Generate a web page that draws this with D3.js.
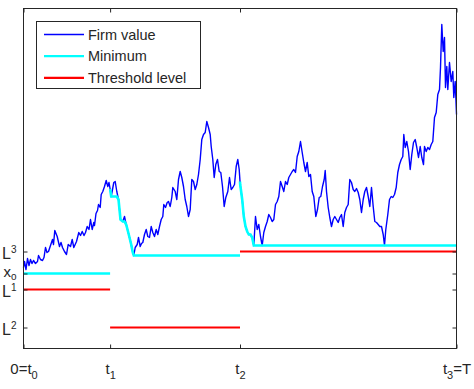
<!DOCTYPE html>
<html>
<head>
<meta charset="utf-8">
<script src="https://cdn.jsdelivr.net/npm/d3@7"></script>
<style>
  body { margin: 0; background: #fff; }
  text { font-family: "Liberation Sans", Arial, sans-serif; fill: #262626; }
</style>
</head>
<body>
<div class="chart"></div>
<script>
// time axis runs 0..T, thresholds change at t1 and t2
var T = 433, t1 = 86.6, t2 = 216.5;
var x0 = 75, L1 = 59, L2 = 21, L3 = 97;

var breakTimes = [0, t1, t2, T];
var thresholdLevels = [L1, L2, L3];

var times = [
  0, 1, 2.5, 4, 5.5, 7, 8.5, 10, 12, 14, 15, 17, 19, 20.5, 22, 23.5, 25, 27, 29, 30,
  31.3, 33.7, 36, 37.5, 39, 41, 43, 44.7, 47, 48.7, 50.3, 53, 55.3, 57, 58.7, 60.5, 62, 63.7, 65.5, 67,
  68.7, 70.3, 71, 72.5, 74, 75, 76.7, 77.7, 79.3, 81, 82.7, 84.3, 85.5, 86.7, 87.7, 89, 90.3, 91.7, 93.3, 95,
  97, 99.3, 101, 102.7, 104.5, 106, 107.7, 109.3, 110.3, 111.7, 113.7, 115, 116.7, 118, 119.3, 121, 122.7, 124.3, 126, 127.7,
  129.3, 131, 132.7, 134.3, 136, 137.7, 139.3, 140.3, 142, 143.7, 145, 146.7, 148.3, 149.3, 151.7, 153.3, 155, 156.7, 158.3, 160,
  161.7, 163.3, 165, 166.7, 168.3, 170, 171.7, 173.3, 175, 176.7, 178.3, 180, 181.7, 183.3, 185, 186.7, 187.7, 189.3, 190.7, 192.3,
  194, 195.7, 197.3, 199, 200.7, 202.3, 204.3, 206, 207.7, 209.3, 211, 212.7, 214.3, 215.7, 216.7, 218.7, 220.3, 222, 223.7, 225.3,
  227, 228.7, 230.3, 232, 233.7, 235.3, 237, 238.7, 240.3, 242, 243.7, 245.3, 247, 248.7, 250.3, 252, 253.7, 255.3, 257, 258.7,
  260.3, 262, 263.7, 265.3, 267, 268.7, 270.3, 272, 273.7, 275.3, 277, 278.7, 280.3, 282, 283.7, 285.3, 287, 288.7, 290.3, 292.3,
  294, 295.7, 297.3, 299, 300.7, 301.7, 303, 304.7, 306.3, 308, 309.7, 311.3, 313, 314.7, 316.3, 318, 319.7, 321.3, 323, 324.7,
  326.3, 328, 329.7, 331.3, 333, 334.7, 336.3, 338, 339.7, 341.3, 343, 344.7, 346.3, 348, 349.7, 351.3, 353, 354.7, 356.3, 358,
  359.7, 361, 362.3, 364.3, 366, 367.7, 369.3, 371, 372.7, 374.3, 376, 377.7, 379.3, 380.3, 381.7, 383.3, 385, 386.7, 388.3, 390,
  391.7, 393.3, 395, 396.7, 398.3, 400, 401, 402.7, 404.3, 406, 407.7, 409.3, 411, 412.7, 414.3, 416, 417, 418.3, 419.7, 421,
  422, 423.3, 424.3, 426, 427.7, 429.3, 430.3, 431.7, 433
];

var firmValue = [
  81, 87, 79, 90, 83, 89, 85, 88, 85, 87, 93, 89, 88, 91, 101, 96, 97, 103, 109, 104,
  118, 112, 102, 106, 101, 97, 94, 104, 102, 109, 101, 107, 116, 113, 117, 113, 116, 122, 119, 129,
  119, 126, 123, 135, 138, 144, 141, 154, 157, 162, 168, 162, 166, 159, 152, 159, 166, 167, 157, 149,
  129, 127, 132, 124, 117, 111, 104, 96, 93, 101, 104, 111, 102, 105, 106, 114, 119, 112, 111, 122,
  116, 112, 119, 114, 122, 129, 132, 144, 141, 146, 147, 142, 151, 161, 157, 149, 169, 177, 171, 162,
  149, 142, 132, 139, 169, 167, 159, 164, 174, 189, 209, 214, 216, 227, 221, 214, 202, 189, 171, 184,
  189, 177, 176, 162, 142, 151, 157, 171, 159, 161, 164, 182, 189, 179, 164, 149, 132, 122, 117, 114,
  114, 111, 103, 132, 119, 124, 112, 103, 116, 122, 127, 134, 131, 127, 129, 144, 147, 152, 167, 162,
  157, 167, 164, 171, 174, 177, 179, 176, 192, 197, 207, 196, 186, 177, 186, 172, 174, 157, 152, 132,
  139, 151, 152, 162, 169, 178, 157, 141, 131, 122, 129, 132, 129, 126, 131, 134, 122, 136, 141, 144,
  169, 166, 159, 157, 160, 156, 149, 136, 149, 157, 161, 152, 142, 161, 142, 127, 126, 124, 122, 122,
  114, 103, 119, 134, 149, 152, 151, 154, 161, 176, 184, 189, 192, 214, 201, 207, 197, 179, 194, 206,
  209, 201, 191, 202, 191, 184, 202, 197, 201, 199, 204, 207, 231, 236, 254, 259, 281, 324, 297, 311,
  261, 282, 259, 286, 267, 277, 251, 267, 234
];

var yTicks = [L2, L1, x0, L3];
var yLabels = [["L", "2", "sup"], ["L", "1", "sup"], ["x", "o", "sub"], ["L", "3", "sup"]];
var xTicks = [0, t1, t2, T];
var xLabels = [["0=t", "0", ""], ["t", "1", ""], ["t", "2", ""], ["t", "3", "=T"]];

var legendNames = ["Firm value", "Minimum", "Threshold level"];
var colors = ["#0000ff", "#00ffff", "#ff0000"];

var W = 474, H = 389;
var margin = {top: 8.5, left: 23.5, right: 17.5, bottom: 40.5};

var svg = d3.select(".chart").append("svg")
    .attr("width", W)
    .attr("height", H);

var x = d3.scaleLinear().domain([0, T]).range([margin.left, W - margin.right]);
var y = d3.scaleLinear().domain([0, 340]).range([H - margin.bottom, margin.top]);

var data = times.map(function(t, i) { return {t: t, v: firmValue[i]}; });

// value of the path at a given time (linear between readings)
var bis = d3.bisector(function(d) { return d.t; }).left;
function valueAt(t) {
  var i = bis(data, t);
  if (i <= 0) return data[0].v;
  var a = data[i - 1], b = data[i];
  return a.v + (b.v - a.v) * (t - a.t) / (b.t - a.t);
}

// running minimum in every interval
var minimum = [];
for (var k = 0; k < 3; k++) {
  var a = breakTimes[k], b = breakTimes[k + 1];
  var m = k === 0 ? x0 : valueAt(a);
  var seg = [[a, m]];
  data.forEach(function(d) {
    if (d.t > a && d.t < b) {
      m = Math.min(m, d.v);
      seg.push([d.t, m]);
    }
  });
  seg.push([b, m]);
  minimum.push(seg);
}

var line = d3.line()
    .x(function(d) { return x(d[0]); })
    .y(function(d) { return y(d[1]); });

svg.append("path")
    .attr("d", line(data.map(function(d) { return [d.t, d.v]; })))
    .attr("fill", "none")
    .attr("stroke", colors[0])
    .attr("stroke-width", 1.4)
    .attr("stroke-linejoin", "round");

svg.selectAll(".min")
    .data(minimum)
  .enter().append("path")
    .attr("class", "min")
    .attr("d", line)
    .attr("fill", "none")
    .attr("stroke", colors[1])
    .attr("stroke-width", 2.6);

svg.selectAll(".thr")
    .data(thresholdLevels)
  .enter().append("line")
    .attr("class", "thr")
    .attr("x1", function(d, i) { return x(breakTimes[i]); })
    .attr("x2", function(d, i) { return x(breakTimes[i + 1]); })
    .attr("y1", function(d) { return y(d); })
    .attr("y2", function(d) { return y(d); })
    .attr("stroke", colors[2])
    .attr("stroke-width", 2.2);

// axes with inward ticks on all four sides
var bottom = svg.append("g")
    .attr("transform", "translate(0," + y.range()[0] + ")")
    .call(d3.axisBottom(x).tickValues(xTicks).tickSizeInner(-4).tickSizeOuter(0).tickPadding(15));
svg.append("g")
    .attr("transform", "translate(0," + y.range()[1] + ")")
    .call(d3.axisTop(x).tickValues(xTicks).tickSizeInner(-4).tickSizeOuter(0).tickFormat(""));
var left = svg.append("g")
    .attr("transform", "translate(" + x.range()[0] + ",0)")
    .call(d3.axisLeft(y).tickValues(yTicks).tickSizeInner(-4).tickSizeOuter(0).tickPadding(7));
svg.append("g")
    .attr("transform", "translate(" + x.range()[1] + ",0)")
    .call(d3.axisRight(y).tickValues(yTicks).tickSizeInner(-4).tickSizeOuter(0).tickFormat(""));

svg.selectAll(".domain").remove();
svg.selectAll(".tick line").attr("stroke", "#262626");

svg.append("rect")
    .attr("x", x.range()[0])
    .attr("y", y.range()[1])
    .attr("width", x.range()[1] - x.range()[0])
    .attr("height", y.range()[0] - y.range()[1])
    .attr("fill", "none")
    .attr("stroke", "#262626")
    .attr("stroke-width", 1);

bottom.selectAll(".tick text").each(function(d, i) {
  var t = d3.select(this).text("").attr("font-size", 15).attr("fill", null).attr("dy", "0.71em");
  t.append("tspan").text(xLabels[i][0]);
  t.append("tspan").attr("font-size", 11).attr("dy", 5).text(xLabels[i][1]);
  if (xLabels[i][2]) t.append("tspan").attr("dy", -5).text(xLabels[i][2]);
});

left.selectAll(".tick text").each(function(d, i) {
  var lab = yLabels[i];
  var sup = lab[2] === "sup";
  var t = d3.select(this).text("").attr("font-size", sup ? 16 : 15).attr("fill", null)
      .attr("dy", sup ? "0.45em" : "0.2em");
  t.append("tspan").text(lab[0]);
  t.append("tspan").attr("font-size", 10).attr("dy", sup ? -6 : 3).text(lab[1]);
});

// legend
var lg = svg.append("g").attr("transform", "translate(36.5,21.5)");
lg.append("rect")
    .attr("width", 164)
    .attr("height", 67)
    .attr("fill", "#fff")
    .attr("stroke", "#262626")
    .attr("stroke-width", 1);

var item = lg.selectAll(".item")
    .data(legendNames)
  .enter().append("g")
    .attr("class", "item")
    .attr("transform", function(d, i) { return "translate(0," + (13 + i * 21.7) + ")"; });

item.append("line")
    .attr("x1", 7.5)
    .attr("x2", 47.5)
    .attr("stroke", function(d, i) { return colors[i]; })
    .attr("stroke-width", function(d, i) { return i === 0 ? 1.4 : 2.2; });

item.append("text")
    .attr("x", 51.5)
    .attr("dy", "0.36em")
    .attr("font-size", 14.5)
    .text(function(d) { return d; });
</script>
</body>
</html>
